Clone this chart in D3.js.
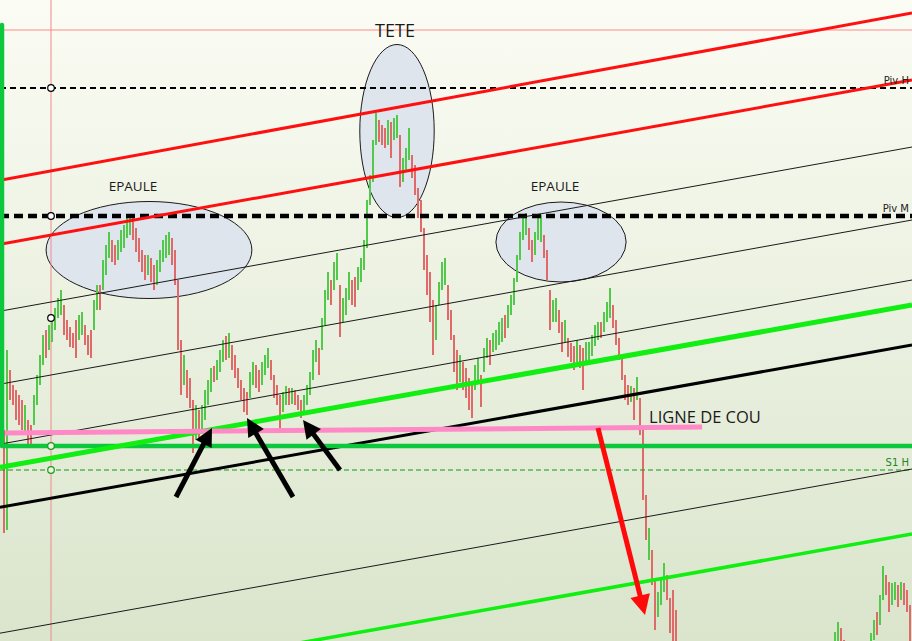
<!DOCTYPE html>
<html><head><meta charset="utf-8">
<script src="https://cdn.jsdelivr.net/npm/d3@7"></script>
<style>html,body{margin:0;padding:0;background:#fff;overflow:hidden}svg{display:block}</style>
</head><body>
<svg id="chart" width="912" height="641"></svg>
<script>
// ---------------- DATA ----------------
// bar index axis (time) and price axis (arbitrary units)
const barDomain = [0, 303];
const priceDomain = [359, 1000];

// segment A: bars 0..225
const barStartA = 0;
const barHighA = [
 620,570,650,630,615,610,605,600,595,580,
 575,605,625,645,665,670,675,680,692,702,
 710,695,680,673,667,680,685,688,675,665,
 670,700,715,715,740,755,768,760,755,760,
 770,775,784,786,782,772,762,750,745,745,
 742,735,740,750,760,765,768,762,750,720,
 660,645,630,622,600,595,590,595,610,620,
 632,634,640,650,660,664,667,655,645,632,
 620,612,608,628,638,635,630,638,645,652,
 640,625,615,605,608,614,612,612,610,605,
 600,605,615,628,650,660,652,682,710,728,
 720,738,747,715,702,712,728,720,723,733,
 742,760,800,825,860,887,880,875,872,880,
 878,882,885,865,842,852,872,845,835,812,
 800,772,745,728,700,695,718,738,742,715,
 690,665,650,645,638,632,622,615,635,642,
 625,652,662,660,667,670,678,682,685,695,
 705,722,745,768,785,787,772,760,768,782,
 785,765,750,710,700,702,690,678,680,662,
 657,654,660,655,652,658,658,665,675,678,
 678,688,698,712,695,680,662,645,625,615,
 614,612,623,602,570,505,472,450,420,408,
 422,437,425,402,410,390];
const barLowA = [
 560,467,470,600,595,580,575,570,565,555,
 555,575,595,615,635,642,650,658,670,682,
 685,665,660,653,652,642,660,665,655,645,
 642,670,690,690,710,725,742,738,735,740,
 748,752,762,765,760,748,738,728,720,725,
 718,710,715,728,738,742,745,735,715,650,
 605,615,602,592,547,560,562,568,580,595,
 608,618,620,628,638,640,642,630,622,612,
 600,588,585,602,615,612,608,615,625,632,
 620,602,595,572,588,595,595,596,595,590,
 582,588,595,605,620,638,625,650,675,700,
 695,710,720,663,678,685,700,695,693,710,
 718,730,752,795,818,855,858,855,852,855,
 842,860,862,813,818,828,840,822,805,782,
 768,730,705,678,645,660,695,710,715,680,
 660,628,610,618,610,602,590,582,610,618,
 593,628,642,635,648,650,655,658,662,672,
 685,695,718,740,760,765,750,738,745,760,
 758,742,720,670,678,678,667,648,658,643,
 638,630,638,632,610,638,640,644,654,660,
 662,668,678,682,672,655,640,620,600,595,
 598,580,600,565,500,460,440,415,370,383,
 395,408,400,367,355,340];
const barDirA = [
 "ddudddddud","duuuuduuuu","uddddduudd","duuduuuddu","uuuudddddu",
 "dduuuuuddd","duddduduuu","uduuududdd","ddduudduuu","dddduududd",
 "duuuuuduuu","duuduuuddu","uuuuuudddu","duuduuuddd","ddddduuuud",
 "dddudddduu","duuduuuudu","uuuuuudduu","uddduuddud","ddudduuuuu",
 "duuudddddd","ududdduddu","uudddd"].join("");

// segment B: bars 278..303
const barStartB = 278;
const barHighB = [368,378,372,360,352,350,348,345,350,352,355,358,367,380,388,405,434,425,418,417,418,415,418,417,410,395];
const barLowB  = [340,350,345,338,330,328,325,322,328,332,335,340,350,360,365,375,400,405,388,395,400,393,400,395,388,355];
const barDirB  = "uudddud" + "uuuuuuu" + "duudduudu" + "ddd";

// horizontal levels (price)
const levelTopRed = 970;
const levelPivH = 912;
const levelPivM = 784;
const levelGreen = 554;
const levelS1 = 530;
const bracketTop = 975;
const bracketBar = 0.33;
const markerBar = 16.67;
const markerLevels = [912, 784, 682, 554, 530];
const levelLabels = ["Piv H", "Piv M", "S1 H"];

// trend lines: two anchors each [bar, price]
const redUpper   = [[0, 820], [300, 985]];
const redLower   = [[0, 756], [300, 918]];
const channelA   = [[0, 689], [300, 851]];
const channelC   = [[0, 616], [300, 778]];
const channelE   = [[0, 556], [300, 718]];
const channelF   = [[0, 367], [300, 529]];
const blackTrend = [[0, 493], [300, 653]];
const greenTrend = [[0, 533], [300, 693]];
const greenLow   = [[0, 304], [300, 464]];
const neckline   = [[1.33, 567], [233.7, 573]];

// annotations
const shoulderHeads = [
 {label:"EPAULE", bar:49.33, price:750, rBars:34.3, rPrice:48.5},
 {label:"TETE",   bar:132.0, price:869, rBars:12.4, rPrice:86.5},
 {label:"EPAULE", bar:186.67, price:758, rBars:21.7, rPrice:40}
];
const supportArrows = [
 {tail:[58.33, 503], tip:[70.33, 572]},
 {tail:[97.33, 503], tip:[82.0, 582]},
 {tail:[113.0, 530], tip:[100.67, 580]}
];
const breakArrow = {tail:[199.0, 572], tip:[214.67, 385]};
const necklineLabel = "LIGNE DE COU";

// ---------------- DRAW ----------------
const W = 912, H = 641;
const svg = d3.select("#chart");
const x = d3.scaleLinear().domain(barDomain).range([1, 910]);
const y = d3.scaleLinear().domain(priceDomain).range([H, 0]);

const defs = svg.append("defs");
const grad = defs.append("linearGradient").attr("id","bg").attr("x1",0).attr("y1",0).attr("x2",0).attr("y2",1);
grad.append("stop").attr("offset","0%").attr("stop-color","#fbfcf4");
grad.append("stop").attr("offset","100%").attr("stop-color","#dae5cc");
svg.append("rect").attr("width",W).attr("height",H).attr("fill","url(#bg)");

// ellipses
const gE = svg.append("g");
shoulderHeads.forEach(s=>{
  gE.append("ellipse")
    .attr("cx", x(s.bar)).attr("cy", y(s.price))
    .attr("rx", x(s.bar + s.rBars) - x(s.bar))
    .attr("ry", y(s.price - s.rPrice) - y(s.price))
    .attr("fill","#dfe5ec").attr("stroke","#1a1a1a").attr("stroke-width",1);
});

// thin red crosshair
svg.append("line").attr("x1",0).attr("x2",W).attr("y1",y(levelTopRed)).attr("y2",y(levelTopRed))
  .attr("stroke","#ff8a8a").attr("stroke-width",1);
svg.append("line").attr("x1",x(markerBar)).attr("x2",x(markerBar)).attr("y1",0).attr("y2",H)
  .attr("stroke","#f08a8a").attr("stroke-width",1);

// candles
const gC = svg.append("g");
function drawBars(start, hi, lo, dir){
  hi.forEach((h,i)=>{
    const b = start + i;
    const top = y(h), bot = y(lo[i]);
    gC.append("rect").attr("x", x(b)-1).attr("width",2)
      .attr("y", top).attr("height", Math.max(1, bot-top))
      .attr("fill", dir[i]==="u" ? "#52c94a" : "#e06a6a");
  });
}
drawBars(barStartA, barHighA, barLowA, barDirA);
drawBars(barStartB, barHighB, barLowB, barDirB);

// lines
const b0 = x.invert(0), b1 = x.invert(W);
function extend(a){
  const m = (a[1][1]-a[0][1])/(a[1][0]-a[0][0]);
  return [[b0, a[0][1]+m*(b0-a[0][0])],[b1, a[0][1]+m*(b1-a[0][0])]];
}
const gL = svg.append("g");
function seg(pts, color, w, dash){
  const l = gL.append("line")
    .attr("x1",x(pts[0][0])).attr("y1",y(pts[0][1]))
    .attr("x2",x(pts[1][0])).attr("y2",y(pts[1][1]))
    .attr("stroke",color).attr("stroke-width",w);
  if(dash) l.attr("stroke-dasharray",dash);
  return l;
}
function hline(level, color, w, dash){ return seg([[b0,level],[b1,level]], color, w, dash); }

hline(levelPivH, "#000", 2, "6,4");
hline(levelPivM, "#000", 4.5, "9,5");
hline(levelS1, "#119911", 1, "5,3");

[channelA, channelC, channelE, channelF].forEach(c=>seg(extend(c), "#1a1a1a", 1));
seg(extend(redUpper), "#ff1010", 3);
seg(extend(redLower), "#ff1010", 3);
seg(extend(blackTrend), "#000", 3);
seg(extend(greenLow), "#11ee11", 3.5);

// green bracket
gL.append("path")
  .attr("d", `M${x(bracketBar)},${y(bracketTop)}L${x(bracketBar)},${y(levelGreen)}L${W},${y(levelGreen)}`)
  .attr("fill","none").attr("stroke","#0bc83c").attr("stroke-width",4.5)
  .attr("stroke-linejoin","round").attr("stroke-linecap","round");

seg(extend(greenTrend), "#11ee11", 5);
seg(neckline, "#ff88c6", 5);

// marker circles
markerLevels.forEach(lv=>{
  svg.append("circle").attr("cx",x(markerBar)).attr("cy",y(lv)).attr("r",3.3)
    .attr("fill", lv>=600 ? "#fff" : "#e8f5e0")
    .attr("stroke", lv>=600 ? "#000" : "#1a9a1a").attr("stroke-width",1.2);
});

// level labels (right edge)
const lblLevels = [levelPivH, levelPivM, levelS1];
levelLabels.forEach((t,i)=>{
  svg.append("text").attr("x", W - 3).attr("y", y(lblLevels[i]) - 4)
    .attr("text-anchor","end")
    .attr("font-family","'DejaVu Sans', sans-serif").attr("font-size",10)
    .attr("fill", i===2 ? "#1a8a1a" : "#222").text(t);
});

// arrows
function arrow(a, color, w, hl, hw){
  const x0=x(a.tail[0]), y0=y(a.tail[1]), x1=x(a.tip[0]), y1=y(a.tip[1]);
  const dx=x1-x0, dy=y1-y0, L=Math.hypot(dx,dy), ux=dx/L, uy=dy/L;
  const bx=x1-ux*hl, by=y1-uy*hl;
  svg.append("line").attr("x1",x0).attr("y1",y0).attr("x2",bx+ux*2).attr("y2",by+uy*2)
    .attr("stroke",color).attr("stroke-width",w);
  svg.append("path")
    .attr("d",`M${x1},${y1}L${bx-uy*hw/2},${by+ux*hw/2}L${bx+uy*hw/2},${by-ux*hw/2}Z`)
    .attr("fill",color);
}
supportArrows.forEach(a=>arrow(a,"#000",5,18,18));
arrow(breakArrow,"#ff0a0a",5,20,20);

// texts
const font = "'Open Sans', 'DejaVu Sans', sans-serif";
shoulderHeads.forEach(s=>{
  const isHead = s.label==="TETE";
  svg.append("text").attr("x", x(s.bar) + (isHead? -2 : -16 + (s.bar>100?10:0)))
    .attr("y", isHead ? y(s.price + s.rPrice) - 8 : y(s.price + s.rPrice) - 11)
    .attr("text-anchor","middle").attr("font-family",font)
    .attr("font-size", isHead ? 18 : 13.5).attr("fill","#1a1a1a").text(s.label);
});
svg.append("text").attr("x", x(neckline[1][0]) - 53).attr("y", y(neckline[1][1]) - 4)
  .attr("font-family",font).attr("font-size",16.5).attr("fill","#1a1a1a").text(necklineLabel);
</script>
</body></html>
